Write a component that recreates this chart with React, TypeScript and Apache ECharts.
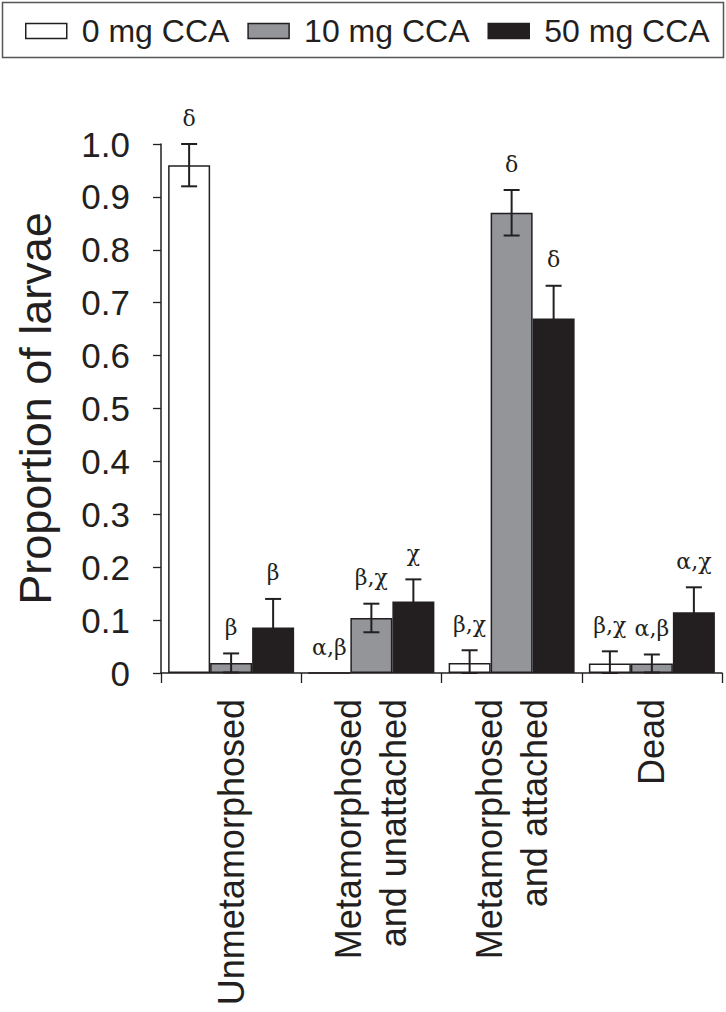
import React, { useEffect, useRef } from "react";
import * as echarts from "echarts";

const categories = [
  "Unmetamorphosed",
  "Metamorphosed\nand unattached",
  "Metamorphosed\nand attached",
  "Dead",
];
const seriesNames = ["0 mg CCA", "10 mg CCA", "50 mg CCA"];
const mean0 = [0.96, 0.0, 0.019, 0.018];
const mean10 = [0.019, 0.104, 0.87, 0.018];
const mean50 = [0.086, 0.135, 0.67, 0.115];
const err0 = [0.04, 0.0, 0.024, 0.023];
const err10 = [0.018, 0.027, 0.043, 0.017];
const err50 = [0.054, 0.042, 0.062, 0.047];
const letters0 = ["δ", "α,β", "β,χ", "β,χ"];
const letters10 = ["β", "β,χ", "δ", "α,β"];
const letters50 = ["β", "χ", "δ", "α,χ"];
const yTicks = [0, 0.1, 0.2, 0.3, 0.4, 0.5, 0.6, 0.7, 0.8, 0.9, 1.0];
const yTickLabels = ["0", "0.1", "0.2", "0.3", "0.4", "0.5", "0.6", "0.7", "0.8", "0.9", "1.0"];

const means = [mean0, mean10, mean50];
const errs = [err0, err10, err50];
const letters = [letters0, letters10, letters50];
const fills = ["#ffffff", "#939598", "#231f20"];
const INK = "#231f20";
const BAR_W = 42;
const SANS = "'Liberation Sans', Arial, Helvetica, sans-serif";
const SERIF = "'DejaVu Serif', 'Liberation Serif', serif";

export default function App() {
  const ref = useRef<HTMLDivElement>(null);
  useEffect(() => {
    if (!ref.current) return;
    const chart = echarts.init(ref.current, null, { renderer: "svg" });

    const barSeries = seriesNames.map((name, i) => ({
      name,
      type: "bar",
      data: means[i],
      barWidth: BAR_W,
      barGap: "0%",
      itemStyle: { color: fills[i], borderColor: INK, borderWidth: 1.5 },
      z: 2,
    }));

    const errSeries = seriesNames.map((name, i) => ({
      type: "custom",
      name: name + " err",
      data: means[i].map((m, k) => [k, m, errs[i][k]]),
      encode: { x: 0, y: 1 },
      clip: false,
      z: 5,
      silent: true,
      renderItem: (params: any, api: any) => {
        const ci = api.value(0);
        const v = api.value(1);
        const e = api.value(2);
        const off = (i - 1) * BAR_W;
        const base = api.coord([ci, v]);
        const x = base[0] + off;
        const yTop = api.coord([ci, v + e])[1];
        const yBot = api.coord([ci, Math.max(0, v - e)])[1];
        const cap = 8;
        const ls = { stroke: INK, lineWidth: 2 };
        const children: any[] = [];
        if (e > 0) {
          children.push(
            { type: "line", shape: { x1: x, y1: yTop, x2: x, y2: yBot }, style: ls },
            { type: "line", shape: { x1: x - cap, y1: yTop, x2: x + cap, y2: yTop }, style: ls },
            { type: "line", shape: { x1: x - cap, y1: yBot, x2: x + cap, y2: yBot }, style: ls }
          );
        }
        children.push({
          type: "text",
          x: x,
          y: yTop - 26,
          style: {
            text: letters[i][params.dataIndex],
            fill: INK,
            fontSize: 22,
            fontFamily: SERIF,
            align: "center",
            verticalAlign: "middle",
          },
        });
        return { type: "group", children };
      },
    }));

    chart.setOption({
      animation: false,
      backgroundColor: "#ffffff",
      textStyle: { fontFamily: SANS },
      graphic: [
        {
          type: "rect",
          shape: { x: 2.5, y: 2.5, width: 721, height: 55 },
          style: { fill: "none", stroke: "#555555", lineWidth: 1.5 },
          z: 0,
        },
      ],
      legend: {
        data: seriesNames,
        left: 20,
        top: 10,
        icon: "rect",
        itemWidth: 41,
        itemHeight: 15,
        itemGap: 18,
        itemStyle: { borderColor: INK, borderWidth: 1.5 },
        textStyle: { fontSize: 32, color: INK, fontFamily: SANS, padding: [0, 0, 0, 10] },
        selectedMode: false,
      },
      grid: { left: 161, top: 144, right: 4, bottom: 339, containLabel: false },
      xAxis: {
        type: "category",
        data: categories,
        axisLine: { lineStyle: { color: INK, width: 1.5 } },
        axisTick: { show: true, length: 10, alignWithLabel: false, lineStyle: { color: INK, width: 1.3 } },
        axisLabel: {
          interval: 0,
          rotate: 90,
          margin: 26,
          fontSize: 36,
          lineHeight: 45,
          color: INK,
          fontFamily: SANS,
        },
        splitLine: { show: false },
      },
      yAxis: {
        type: "value",
        min: yTicks[0],
        max: yTicks[yTicks.length - 1],
        interval: 0.1,
        name: "Proportion of larvae",
        nameLocation: "middle",
        nameRotate: 90,
        nameGap: 103,
        nameTextStyle: { fontSize: 45, color: INK, fontFamily: SANS },
        axisLine: { show: true, lineStyle: { color: INK, width: 1.5 } },
        axisTick: { show: true, length: 8, lineStyle: { color: INK, width: 1.3 } },
        axisLabel: {
          fontSize: 35,
          color: INK,
          margin: 31,
          fontFamily: SANS,
          formatter: (v: number) => {
            const idx = yTicks.findIndex((t) => Math.abs(t - v) < 1e-9);
            return idx >= 0 ? yTickLabels[idx] : "";
          },
        },
        splitLine: { show: false },
      },
      series: [...barSeries, ...errSeries],
    });
    return () => chart.dispose();
  }, []);
  return (
    <div
      ref={ref}
      style={{ position: "absolute", left: 0, top: 0, width: 726, height: 1012 }}
    />
  );
}
